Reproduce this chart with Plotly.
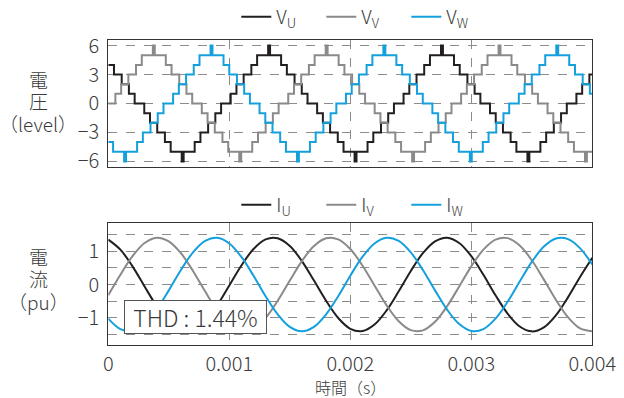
import plotly.graph_objects as go

# ---------------- data ----------------
T_END_MS = 4.0
FREQ_HZ = 700.0
# staircase switching angles (deg from zero crossing) for levels 1..6
SWITCH_DEG = [10, 22, 37, 53, 65, 88]
# time of the positive peak of each phase voltage (ms)
V_PEAK_MS = {"U": 1.329, "V": 0.376, "W": 0.853}

# current samples every 0.1 ms (pu)
T_MS = [round(0.1 * k, 1) for k in range(41)]
IU = [1.350, 1.048, 0.546, -0.059, -0.653, -1.123, -1.379, -1.373, -1.105, -0.627,
      -0.029, 0.573, 1.067, 1.358, 1.390, 1.158, 0.705, 0.118, -0.491, -1.007,
      -1.332, -1.402, -1.206, -0.780, -0.206, 0.407, 0.943, 1.300, 1.409, 1.250,
      0.852, 0.293, -0.322, -0.876, -1.263, -1.410, -1.288, -0.921, -0.379, 0.235,
      0.805]
IV = [-0.322, 0.293, 0.852, 1.250, 1.409, 1.300, 0.943, 0.407, -0.206, -0.780,
      -1.206, -1.402, -1.332, -1.007, -0.491, 0.118, 0.705, 1.158, 1.390, 1.358,
      1.067, 0.573, -0.029, -0.627, -1.105, -1.373, -1.379, -1.123, -0.653, -0.059,
      0.546, 1.048, 1.350, 1.395, 1.174, 0.730, 0.147, -0.464, -0.987, -1.322,
      -1.405]
IW = [-1.028, -1.341, -1.398, -1.191, -0.756, -0.177, 0.436, 0.966, 1.311, 1.407,
      1.235, 0.829, 0.265, -0.351, -0.899, -1.276, -1.410, -1.276, -0.899, -0.351,
      0.265, 0.829, 1.235, 1.407, 1.311, 0.966, 0.436, -0.177, -0.756, -1.191,
      -1.398, -1.341, -1.028, -0.519, 0.089, 0.680, 1.141, 1.385, 1.366, 1.087,
      0.600]

X_TICKS = [0, 0.001, 0.002, 0.003, 0.004]
X_TICKTEXT = ["0", "0.001", "0.002", "0.003", "0.004"]
V_TICKS = [-6, -3, 0, 3, 6]
I_TICKS = [-1, 0, 1]
I_MINOR_GRID = [-1.5, -0.5, 0.5, 1.5]

COL_U = "#231f20"
COL_V = "#8a8a8a"
COL_W = "#14a0dc"


def staircase(peak_ms):
    period = 1000.0 / FREQ_HZ
    z = peak_ms - period / 4.0
    while z > -period:
        z -= period
    ev = []
    while z < T_END_MS + period:
        for k, th in enumerate(SWITCH_DEG, 1):
            ev += [(z + th / 360 * period, k),
                   (z + (180 - th) / 360 * period, k - 1),
                   (z + (180 + th) / 360 * period, -k),
                   (z + (360 - th) / 360 * period, -(k - 1))]
        z += period
    ev.sort()
    lvl0 = [l for t, l in ev if t <= 0][-1]
    xs, ys = [0.0], [lvl0]
    for t, l in ev:
        if 0 < t < T_END_MS:
            xs.append(t)
            ys.append(l)
    xs.append(T_END_MS)
    ys.append(ys[-1])
    return [x / 1000 for x in xs], ys


FONT = "Noto Sans CJK JP, Noto Sans, sans-serif"
TXT = "#3a3a3a"
GRID = "#8c8c8c"

fig = go.Figure()
for ph, col in (("U", COL_U), ("V", COL_V), ("W", COL_W)):
    xs, ys = staircase(V_PEAK_MS[ph])
    fig.add_trace(go.Scatter(x=xs, y=ys, mode="lines", line=dict(color=col, width=2, shape="hv"),
                             name=f"V<sub>{ph}</sub>", xaxis="x", yaxis="y", legend="legend"))

t_s = [t / 1000 for t in T_MS]
for ph, col, data in (("U", COL_U, IU), ("V", COL_V, IV), ("W", COL_W, IW)):
    fig.add_trace(go.Scatter(x=t_s, y=data, mode="lines", line=dict(color=col, width=2, shape="spline"),
                             name=f"I<sub>{ph}</sub>", xaxis="x2", yaxis="y2", legend="legend2"))

XDOM = [108.3 / 624, 592.3 / 624]
tickfont = dict(family=FONT, size=20, color=TXT, weight=300)
axis_common = dict(showline=True, mirror=True, linecolor="#333", linewidth=1.3,
                   showgrid=True, gridcolor=GRID, griddash="dash", gridwidth=1,
                   zeroline=False, ticks="", tickfont=tickfont, automargin=False)


def ann(text, x, y, size=19, **kw):
    d = dict(text=text, x=x / 624, y=1 - y / 398, xref="paper", yref="paper", showarrow=False,
             font=dict(family=FONT, size=size, color=TXT, weight=300), xanchor="center", yanchor="middle")
    d.update(kw)
    return d


legend_common = dict(orientation="h", xanchor="center", yanchor="middle", xref="container", yref="container",
                     font=dict(family=FONT, size=19, color=TXT, weight=300), entrywidth=40,
                     entrywidthmode="pixels", bgcolor="rgba(0,0,0,0)")

fig.update_layout(
    width=624, height=398,
    margin=dict(l=0, r=0, t=0, b=0, autoexpand=False),
    paper_bgcolor="white", plot_bgcolor="white",
    font=dict(family=FONT, color=TXT),
    xaxis=dict(domain=XDOM, range=[0, 0.004], anchor="y", tickvals=[0.001, 0.002, 0.003],
               showticklabels=False, **axis_common),
    yaxis=dict(domain=[1 - 166.7 / 398, 1 - 40 / 398], range=[-6.55, 6.58], anchor="x",
               tickvals=V_TICKS, ticklabelstandoff=4, **axis_common),
    xaxis2=dict(domain=XDOM, range=[0, 0.004], anchor="y2", tickvals=X_TICKS, ticktext=X_TICKTEXT,
                ticklabelstandoff=1, **axis_common),
    yaxis2=dict(domain=[1 - 345 / 398, 1 - 223 / 398], range=[-1.82, 1.85], anchor="x2",
                tickvals=I_TICKS, ticktext=["\u22121", "0", "1"], ticklabelstandoff=4,
                minor=dict(tickvals=I_MINOR_GRID, showgrid=True, gridcolor=GRID, griddash="dash",
                           gridwidth=1, ticks=""),
                **axis_common),
    legend=dict(x=0.583, y=1 - 17 / 398, **legend_common),
    legend2=dict(x=0.583, y=1 - 205 / 398, **legend_common),
    annotations=[
        ann("電", 38, 79), ann("圧", 38, 101), ann("（level）", 38, 123),
        ann("電", 38, 256), ann("流", 38, 278), ann("（pu）", 38, 301),
        ann("時間（s）", 350, 386.5, size=16),
        ann("THD : 1.44%", 195.5, 317, size=23, bgcolor="white", bordercolor="#555", borderwidth=1,
            borderpad=1, width=139, height=30),
    ],
)

fig.write_html("out.html", config={"displayModeBar": False},
               post_script="document.body.style.margin='0';document.body.style.overflow='hidden';")
